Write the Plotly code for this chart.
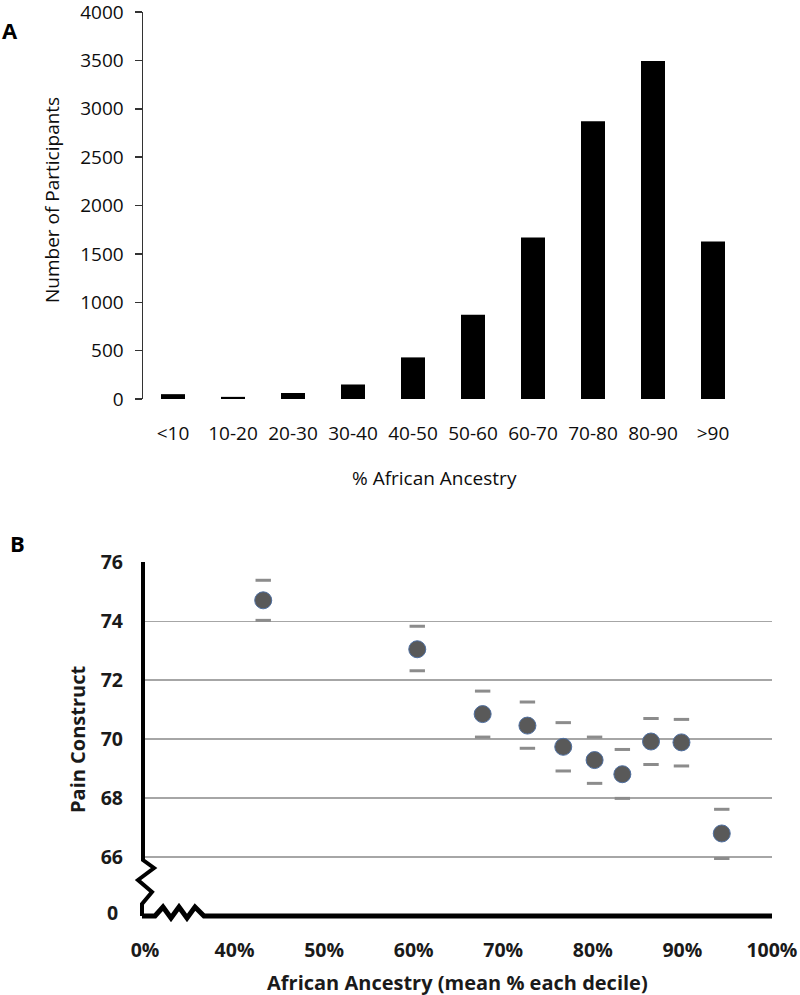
import plotly.graph_objects as go

# ---------- Panel A data ----------
bins = ["<10", "10-20", "20-30", "30-40", "40-50", "50-60", "60-70", "70-80", "80-90", ">90"]
participants = [50, 22, 62, 150, 430, 870, 1670, 2870, 3495, 1628]
a_yticks = [0, 500, 1000, 1500, 2000, 2500, 3000, 3500, 4000]

# ---------- Panel B data ----------
ancestry_mean = [43.2, 60.4, 67.7, 72.7, 76.7, 80.2, 83.3, 86.5, 89.9, 94.4]
pain_mean = [74.71, 73.05, 70.85, 70.46, 69.74, 69.29, 68.81, 69.92, 69.89, 66.80]
pain_upper = [75.39, 73.83, 71.63, 71.26, 70.56, 70.07, 69.65, 70.70, 70.67, 67.62]
pain_lower = [74.03, 72.32, 70.07, 69.69, 68.92, 68.50, 67.99, 69.14, 69.09, 65.95]
b_xtickvals = [30, 40, 50, 60, 70, 80, 90, 100]
b_xticktext = ["0%", "40%", "50%", "60%", "70%", "80%", "90%", "100%"]
b_ytickvals = [66, 68, 70, 72, 74, 76]

W, H = 800, 995
def px(x):
    return x / W
def py(y):
    return 1 - y / H

FONT = "Open Sans"
TXT_A = "#0d0d0d"
TXT_B = "#1a1a1a"
fig = go.Figure()

fig.add_trace(go.Bar(x=bins, y=participants, marker=dict(color="black", line=dict(width=0)),
                     width=0.4, xaxis="x", yaxis="y", showlegend=False))

cap_style = dict(symbol="line-ew", size=11, line=dict(width=3, color="#8c8c8c"))
fig.add_trace(go.Scatter(x=ancestry_mean, y=pain_upper, mode="markers", xaxis="x2", yaxis="y2",
                         marker=cap_style, showlegend=False, cliponaxis=False))
fig.add_trace(go.Scatter(x=ancestry_mean, y=pain_lower, mode="markers", xaxis="x2", yaxis="y2",
                         marker=cap_style, showlegend=False, cliponaxis=False))
fig.add_trace(go.Scatter(x=ancestry_mean, y=pain_mean, mode="markers", xaxis="x2", yaxis="y2",
                         marker=dict(symbol="circle", size=17, color="#595959",
                                     line=dict(width=1, color="#4f6fa0")),
                         showlegend=False))

# axis break path for panel B (decoration only)
ypts = [(143, 562), (143, 860), (154, 868), (138, 880), (152, 892), (142, 904), (142, 916)]
xpts = [(142, 916), (155, 916), (163, 907), (171, 918), (179, 907), (187, 918), (195, 907), (204, 916), (772, 916)]
def path(pts):
    return "M " + " L ".join(f"{px(a):.5f},{py(b):.5f}" for a, b in pts)

shapes = [
    dict(type="path", xref="paper", yref="paper", path=path(ypts), line=dict(color="black", width=4)),
    dict(type="path", xref="paper", yref="paper", path=path(xpts), line=dict(color="black", width=5)),
]

fig.update_layout(
    template="none",
    width=W, height=H, margin=dict(l=0, r=0, t=0, b=0, autoexpand=False),
    paper_bgcolor="white", plot_bgcolor="white",
    font=dict(family=FONT, color=TXT_A),
    xaxis=dict(domain=[px(143), px(743)], anchor="y", type="category", automargin=False,
               showline=False, ticks="", showgrid=False, zeroline=False,
               tickfont=dict(size=19, family=FONT, color=TXT_A), ticklabelstandoff=21,
               ticklabeloverflow="allow"),
    yaxis=dict(domain=[py(399), py(12)], anchor="x", range=[0, 4000.5], tickvals=a_yticks,
               automargin=False, ticklabeloverflow="allow",
               showline=True, linecolor="#333333", linewidth=1.5,
               ticks="outside", ticklen=7, tickcolor="#333333", tickwidth=1.5,
               showgrid=False, zeroline=False,
               tickfont=dict(size=19, family=FONT, color=TXT_A), ticklabelstandoff=7),
    xaxis2=dict(domain=[px(145), px(772)], anchor="y2", range=[30, 100.01], automargin=False,
                tickvals=b_xtickvals, ticktext=[f"<b>{t}</b>" for t in b_xticktext],
                showline=False, ticks="", showgrid=False, zeroline=False,
                tickfont=dict(size=19.5, family=FONT, color=TXT_B),
                ticklabelstandoff=20, ticklabeloverflow="allow"),
    yaxis2=dict(domain=[py(916), py(562)], anchor="x2", range=[64, 76.01], automargin=False,
                tickvals=b_ytickvals, ticktext=[f"<b>{v}</b>" for v in b_ytickvals],
                showline=False, ticks="", showgrid=True, gridcolor="#a6a6a6", gridwidth=1.5,
                zeroline=False, ticklabeloverflow="allow",
                tickfont=dict(size=19.5, family=FONT, color=TXT_B), ticklabelstandoff=21),
    shapes=shapes,
    annotations=[
        dict(text="<b>A</b>", xref="paper", yref="paper", x=px(0), y=py(30), xanchor="left",
             yanchor="middle", showarrow=False, font=dict(size=22, color="black")),
        dict(text="<b>B</b>", xref="paper", yref="paper", x=px(8), y=py(543), xanchor="left",
             yanchor="middle", showarrow=False, font=dict(size=22, color="black")),
        dict(text="Number of Participants", xref="paper", yref="paper", x=px(52), y=py(200),
             textangle=-90, showarrow=False, xanchor="center", yanchor="middle",
             font=dict(size=19, color=TXT_A)),
        dict(text="% African Ancestry", xref="paper", yref="paper", x=px(434), y=py(478),
             showarrow=False, xanchor="center", yanchor="middle",
             font=dict(size=19, color=TXT_A)),
        dict(text="<b>Pain Construct</b>", xref="paper", yref="paper", x=px(77), y=py(740),
             textangle=-90, showarrow=False, xanchor="center", yanchor="middle",
             font=dict(size=20, color=TXT_B)),
        dict(text="<b>African Ancestry (mean % each decile)</b>", xref="paper", yref="paper",
             x=px(457), y=py(982), showarrow=False, xanchor="center", yanchor="middle",
             font=dict(size=20, color=TXT_B)),
        dict(text="<b>0</b>", xref="paper", yref="paper", x=px(120), y=py(912),
             showarrow=False, xanchor="right", yanchor="middle",
             font=dict(size=19.5, color=TXT_B)),
    ],
)

fig.write_html("out.html", config={"displayModeBar": False, "staticPlot": True},
               post_script="document.body.style.margin='0';document.body.style.padding='0';"
                           "document.documentElement.style.overflow='hidden';")
